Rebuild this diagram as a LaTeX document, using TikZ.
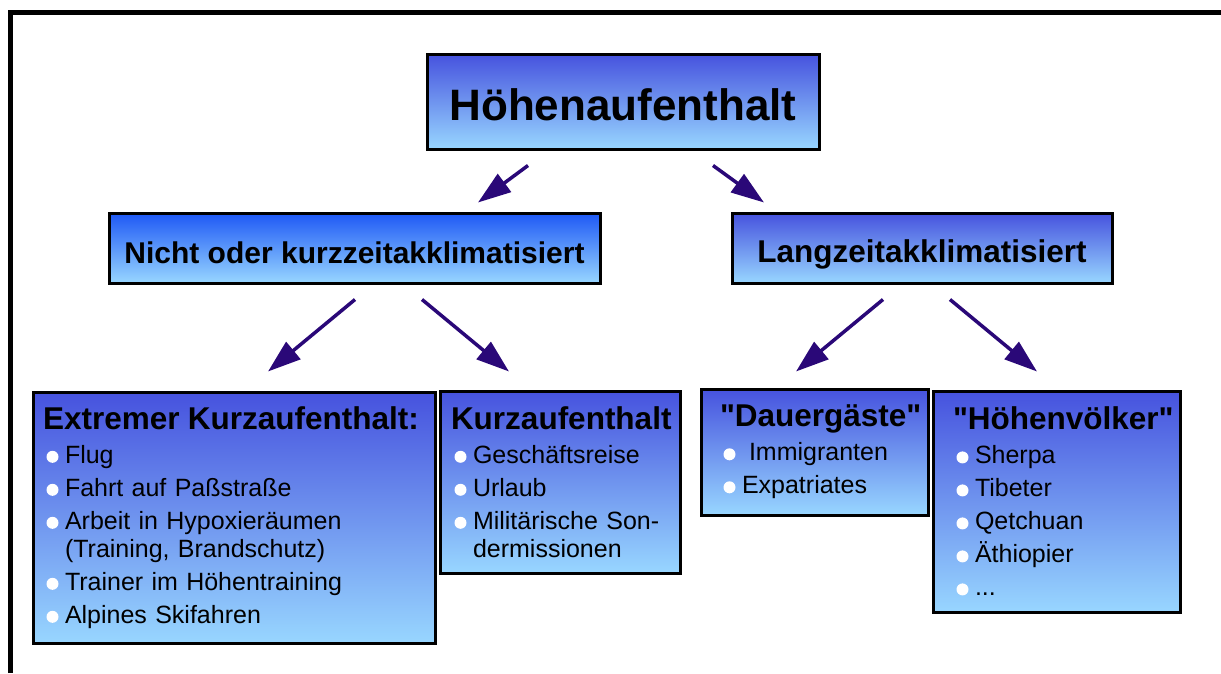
\documentclass[tikz,border=0pt]{standalone}
\usepackage{fontspec}
\setmainfont[Ligatures=TeXOff]{Liberation Sans}
\usetikzlibrary{arrows.meta, calc}
\definecolor{oben}{RGB}{70,82,222}
\definecolor{unten}{RGB}{152,214,255}
\definecolor{grell}{RGB}{30,88,245}
\definecolor{pfeilfarbe}{RGB}{42,8,120}
\newcommand{\pkt}{\makebox[22pt][l]{\hspace{3.5pt}\tikz[baseline=-6.5pt]\fill[white] (0,0) circle (6pt);}}
\newcommand{\kopf}[1]{{\fontsize{31.5}{28}\selectfont\bfseries #1}}

\begin{document}
\begin{tikzpicture}[x=1pt, y=-1pt,
    kasten/.style={draw, line width=3pt, top color=oben, bottom color=unten},
    stufe/.style={kasten, text depth=0pt},
    liste/.style={kasten, align=left, inner ysep=0pt, font=\fontsize{25}{28}\selectfont},
    pfeil/.style={-{Triangle[length=33pt, width=22pt]}, line width=3.5pt, pfeilfarbe}]
  \useasboundingbox (0,0) rectangle (1221,673);
  % Rahmen
  \draw[line width=5pt] (10.5,673) -- (10.5,12.5) -- (1221,12.5);

  % obere Ebenen
  \node[stufe, text height=37pt, minimum width=392pt, minimum height=95pt, font=\fontsize{44}{50}\selectfont\bfseries]
    (hoehe) at (623,101.5) {Höhenaufenthalt};
  \node[stufe, text height=30pt, top color=grell, minimum width=491pt, minimum height=70pt, font=\fontsize{30}{34}\selectfont\bfseries]
    (nicht) at (354.5,248) {Nicht oder kurzzeitakklimatisiert};
  \node[stufe, text height=28pt, minimum width=380pt, minimum height=70pt, font=\fontsize{31.5}{34}\selectfont\bfseries]
    (lang) at (922,248) {Langzeitakklimatisiert};

  % Listen
  \node[liste, text width=382pt, inner xsep=10pt, minimum height=251pt] (extrem) at (234,517.5) {%
    \kopf{Extremer Kurzaufenthalt:}\\[6pt]
    \pkt Flug\\[5pt]
    \pkt Fahrt auf Paßstraße\\[5pt]
    \pkt Arbeit in Hypoxieräumen\\
    \hspace*{22pt}(Training, Brandschutz)\\[5pt]
    \pkt Trainer im Höhentraining\\[5pt]
    \pkt Alpines Skifahren};
  \node[liste, text width=218pt, inner xsep=11pt, minimum height=182pt] (kurz) at (560,482) {%
    \kopf{Kurzaufenthalt}\\[6pt]
    \pkt Geschäftsreise\\[5pt]
    \pkt Urlaub\\[5pt]
    \pkt Militärische Son-\\
    \hspace*{22pt}dermissionen};
  \node[liste, text width=189pt, inner xsep=19pt, minimum height=126pt] (dauer) at (814.5,452) {%
    \kopf{"Dauergäste"}\\[6pt]
    \pkt\hspace{7pt}Immigranten\\[5pt]
    \pkt Expatriates};
  \node[liste, text width=207pt, inner xsep=20pt, minimum height=221pt] (voelker) at (1056.5,501.5) {%
    \kopf{"Höhenvölker"}\\[6pt]
    \pkt Sherpa\\[5pt]
    \pkt Tibeter\\[5pt]
    \pkt Qetchuan\\[5pt]
    \pkt Äthiopier\\[5pt]
    \pkt ...};

  % Pfeile
  \draw[pfeil] ($(hoehe.south)+(-95,15)$) -- ($(nicht.north)+(123.5,-9)$);
  \draw[pfeil] ($(hoehe.south)+(90,15)$) -- ($(lang.north)+(-158,-9)$);
  \draw[pfeil] ($(nicht.south)+(0.5,15)$) -- ($(extrem.north)+(34,-19)$);
  \draw[pfeil] ($(nicht.south)+(67.5,15)$) -- ($(kurz.north)+(-51,-18)$);
  \draw[pfeil] ($(lang.south)+(-39,15)$) -- ($(dauer.north)+(-18.5,-16)$);
  \draw[pfeil] ($(lang.south)+(28,15)$) -- ($(voelker.north)+(-19.5,-18)$);
\end{tikzpicture}
\end{document}
